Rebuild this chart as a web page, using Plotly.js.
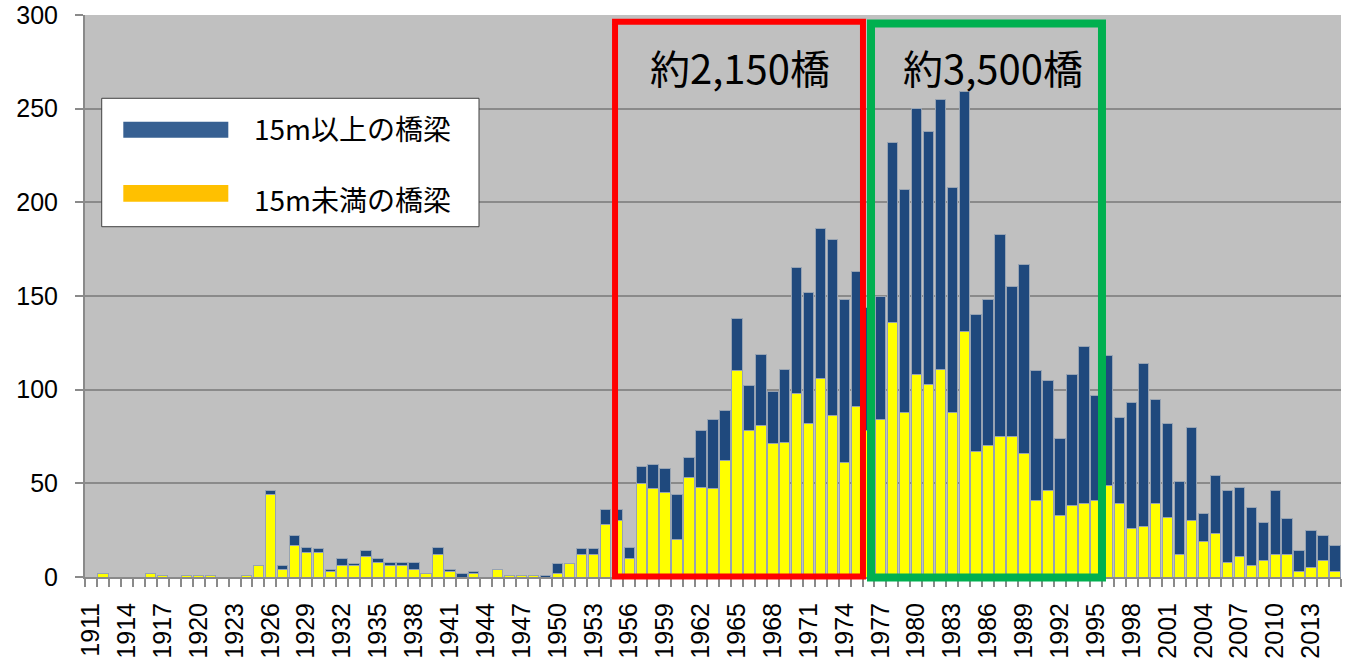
<!DOCTYPE html>
<html>
<head>
<meta charset="utf-8">
<script src="https://cdn.plot.ly/plotly-3.0.1.min.js"></script>
<style>html,body{margin:0;padding:0;background:#fff;}#chart{width:1348px;height:660px;}</style>
</head>
<body>
<div id="chart"></div>
<script>
// Years 1911-2015
const years = [
  1911,1912,1913,1914,1915,1916,1917,1918,1919,1920,
  1921,1922,1923,1924,1925,1926,1927,1928,1929,1930,
  1931,1932,1933,1934,1935,1936,1937,1938,1939,1940,
  1941,1942,1943,1944,1945,1946,1947,1948,1949,1950,
  1951,1952,1953,1954,1955,1956,1957,1958,1959,1960,
  1961,1962,1963,1964,1965,1966,1967,1968,1969,1970,
  1971,1972,1973,1974,1975,1976,1977,1978,1979,1980,
  1981,1982,1983,1984,1985,1986,1987,1988,1989,1990,
  1991,1992,1993,1994,1995,1996,1997,1998,1999,2000,
  2001,2002,2003,2004,2005,2006,2007,2008,2009,2010,
  2011,2012,2013,2014,2015
];
// 15m未満の橋梁 (yellow, bottom)
const under15 = [
  0,2,0,0,0,2,1,0,1,1,
  1,0,0,1,6,44,4,17,13,13,
  3,6,6,11,8,6,6,4,2,12,
  3,0,2,0,4,1,1,1,0,2,
  7,12,12,28,30,10,50,47,45,20,
  53,48,47,62,110,78,81,71,72,98,
  82,106,86,61,91,78,84,136,88,108,
  103,111,88,131,67,70,75,75,66,41,
  46,33,38,39,41,49,39,26,27,39,
  32,12,30,19,23,8,11,6,9,12,
  12,3,5,9,3
];
// 15m以上の橋梁 (blue, stacked on top)
const over15 = [
  0,0,0,0,0,0,0,0,0,0,
  0,0,0,0,0,2,2,5,3,2,
  1,4,1,3,2,2,2,4,0,4,
  1,2,1,0,0,0,0,0,1,5,
  0,3,3,8,6,6,9,13,13,24,
  11,30,37,27,28,24,38,28,39,67,
  70,80,94,87,72,66,66,96,119,142,
  135,144,120,128,73,78,108,80,101,69,
  59,41,70,84,56,69,46,67,87,56,
  50,39,50,15,31,38,37,31,20,34,
  19,11,20,13,14
];
const tickYears = [1911,1914,1917,1920,1923,1926,1929,1932,1935,1938,1941,1944,1947,1950,1953,1956,1959,1962,1965,1968,1971,1974,1977,1980,1983,1986,1989,1992,1995,1998,2001,2004,2007,2010,2013];
const seriesNames = ['15m以上の橋梁','15m未満の橋梁'];
const boxLabels = ['約2,150橋','約3,500橋'];

const barLine = {color:'#97A3B2', width:1};
const traces = [
  {type:'bar', x:years, y:under15, name:seriesNames[1], marker:{color:'#FFFF00', line:barLine}, showlegend:false, hoverinfo:'x+y'},
  {type:'bar', x:years, y:over15, name:seriesNames[0], marker:{color:'#1F497D', line:barLine}, showlegend:false, hoverinfo:'x+y'}
];

const grey = '#8A8A8A';
const layout = {
  width:1348, height:660,
  margin:{l:85, r:7, t:15, b:83, pad:0},
  paper_bgcolor:'#FFFFFF', plot_bgcolor:'#C0C0C0',
  barmode:'stack', bargap:0.13,
  showlegend:false,
  font:{family:'Liberation Sans, Arial, sans-serif', color:'#000'},
  xaxis:{
    type:'linear', range:[1910.5, 2015.5],
    tickmode:'array', tickvals:tickYears, ticktext:tickYears.map(String),
    tickangle:-90, ticks:'', ticklabelstandoff:14,
    tickfont:{family:'Liberation Sans Narrow, Liberation Sans, Arial, sans-serif', size:25, color:'#000'},
    showgrid:false, zeroline:false,
    showline:true, linecolor:grey, linewidth:2,
    minor:{tick0:1910.5, dtick:1, ticks:'outside', ticklen:8, tickwidth:2, tickcolor:grey, showgrid:false}
  },
  yaxis:{
    range:[0,300], tickvals:[0,50,100,150,200,250,300],
    ticks:'outside', ticklen:8, tickwidth:2, tickcolor:grey,
    ticklabelstandoff:12,
    tickfont:{family:'Liberation Sans, Arial, sans-serif', size:25, color:'#000'},
    showgrid:true, gridcolor:grey, gridwidth:2,
    zeroline:false, showline:true, linecolor:grey, linewidth:2
  },
  shapes:[
    {type:'rect', xref:'paper', yref:'paper', x0:0.0133, x1:0.3137, y0:0.6233, y1:0.8518, fillcolor:'#FFFFFF', line:{color:'#404040', width:1}, layer:'above'},
    {type:'rect', xref:'paper', yref:'paper', x0:0.0305, x1:0.1141, y0:0.7817, y1:0.8101, fillcolor:'#376092', line:{width:0}, layer:'above'},
    {type:'rect', xref:'paper', yref:'paper', x0:0.0305, x1:0.1141, y0:0.6678, y1:0.6975, fillcolor:'#FFC000', line:{width:0}, layer:'above'},
    {type:'rect', xref:'paper', yref:'paper', x0:0.4220, x1:0.6194, y0:0.0009, y1:0.9880, line:{color:'#FF0000', width:6}, layer:'above'},
    {type:'rect', xref:'paper', yref:'paper', x0:0.6258, x1:0.8097, y0:-0.0009, y1:0.9849, line:{color:'#00B050', width:8}, layer:'above'}
  ],
  annotations:[
    {xref:'paper', yref:'paper', x:0.1327, y:0.7998, xanchor:'left', yanchor:'middle', text:seriesNames[0], showarrow:false, font:{family:'Noto Sans CJK JP, sans-serif', size:28, color:'#000'}},
    {xref:'paper', yref:'paper', x:0.1327, y:0.6726, xanchor:'left', yanchor:'middle', text:seriesNames[1], showarrow:false, font:{family:'Noto Sans CJK JP, sans-serif', size:28, color:'#000'}},
    {xref:'paper', yref:'paper', x:0.5215, y:0.9066, xanchor:'center', yanchor:'middle', text:boxLabels[0], showarrow:false, font:{family:'Noto Sans CJK JP, sans-serif', size:40, color:'#000'}},
    {xref:'paper', yref:'paper', x:0.7229, y:0.9080, xanchor:'center', yanchor:'middle', text:boxLabels[1], showarrow:false, font:{family:'Noto Sans CJK JP, sans-serif', size:40, color:'#000'}}
  ]
};

Plotly.newPlot('chart', traces, layout, {displayModeBar:false, staticPlot:true});
</script>
</body>
</html>
